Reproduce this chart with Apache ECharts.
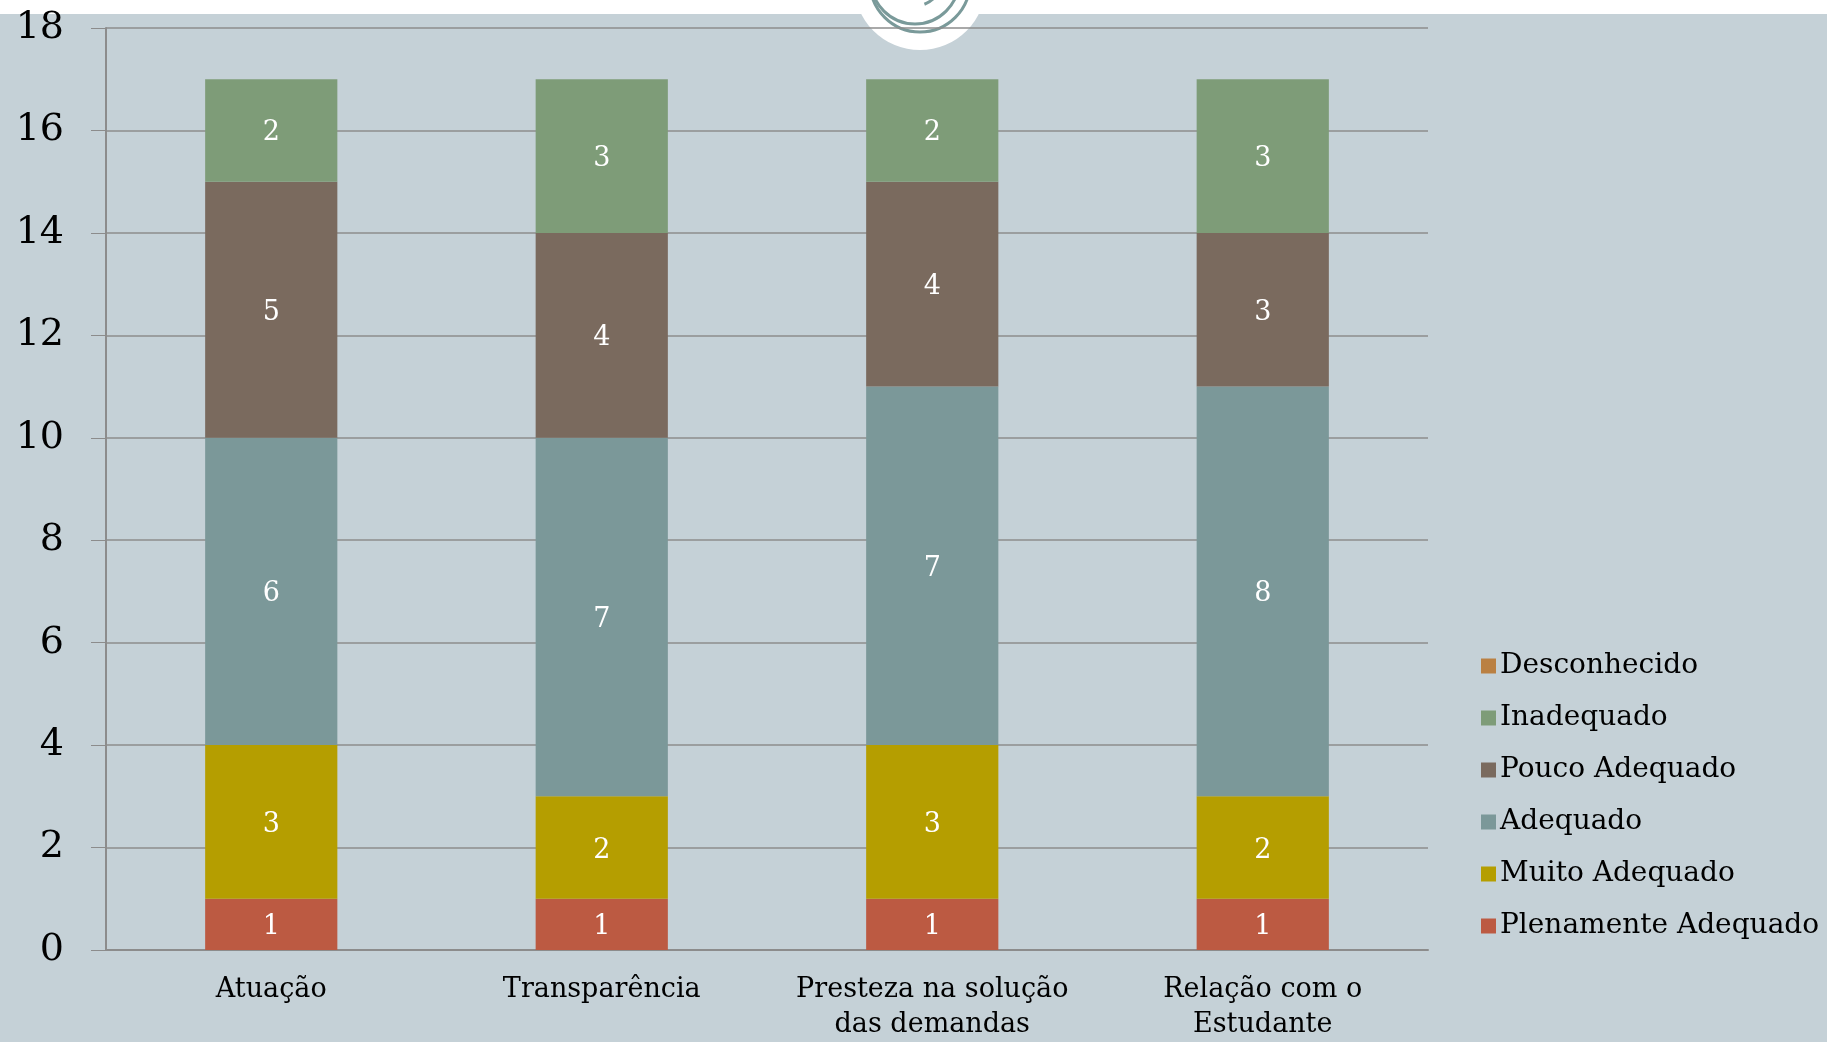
<!DOCTYPE html>
<html>
<head>
<meta charset="utf-8">
<script src="https://cdn.jsdelivr.net/npm/echarts@6/dist/echarts.min.js"></script>
<style>
  html, body { margin: 0; padding: 0; background: #c5d1d7; }
  #chart { width: 1827px; height: 1042px; }
</style>
</head>
<body>
<div id="chart"></div>
<script>
// categories and counts per answer
const categories = ['Atuação', 'Transparência', 'Presteza na solução\ndas demandas', 'Relação com o\nEstudante']
const plenamente = [1, 1, 1, 1]
const muito = [3, 2, 3, 2]
const adequado = [6, 7, 7, 8]
const pouco = [5, 4, 4, 3]
const inadequado = [2, 3, 2, 3]
const desconhecido = [0, 0, 0, 0]
const yTicks = [0, 2, 4, 6, 8, 10, 12, 14, 16, 18]

const font = 'DejaVu Serif'

function barSeries(name, data, color) {
  return {
    name: name,
    type: 'bar',
    stack: 'total',
    barWidth: '40%',
    data: data,
    itemStyle: { color: color },
    label: {
      show: true,
      color: '#fff',
      fontFamily: font,
      fontSize: 27,
      offset: [0, 3],
      formatter: p => (p.value ? p.value : '')
    }
  }
}

const chart = echarts.init(document.getElementById('chart'))
chart.setOption({
  backgroundColor: '#c5d1d7',
  animation: false,
  graphic: [
    { type: 'rect', z: -10, shape: { x: 0, y: 0, width: 1827, height: 14 }, style: { fill: '#fff' } },
    { type: 'circle', z: -10, shape: { cx: 920, cy: -16, r: 66 }, style: { fill: '#fff' } },
    { type: 'circle', z: -9, shape: { cx: 920, cy: -18, r: 50 }, style: { fill: 'none', stroke: '#7a9a9a', lineWidth: 3 } },
    { type: 'circle', z: -9, shape: { cx: 915, cy: -20, r: 44 }, style: { fill: 'none', stroke: '#7a9a9a', lineWidth: 3 } },
    { type: 'arc', z: -9, shape: { cx: 915, cy: -20, r: 26, startAngle: 0.3, endAngle: 1.2 }, style: { stroke: '#7a9a9a', lineWidth: 3 } }
  ],
  grid: { left: 106, right: 399, top: 28, bottom: 90 },
  legend: {
    orient: 'vertical',
    left: 1476,
    top: 647,
    itemWidth: 15,
    itemHeight: 15,
    itemGap: 24,
    icon: 'rect',
    textStyle: { fontFamily: font, fontSize: 28, color: '#000', padding: [0, 0, 0, -1] },
    data: ['Desconhecido', 'Inadequado', 'Pouco Adequado', 'Adequado', 'Muito Adequado', 'Plenamente Adequado']
  },
  xAxis: {
    type: 'category',
    data: categories,
    axisLine: { lineStyle: { color: '#8c8c8c', width: 2 } },
    axisTick: { length: 10, lineStyle: { color: '#8c8c8c' } },
    axisLabel: { fontFamily: font, fontSize: 27, color: '#000', margin: 22, lineHeight: 35, interval: 0 }
  },
  yAxis: {
    type: 'value',
    min: yTicks[0],
    max: yTicks[yTicks.length - 1],
    interval: 2,
    axisLine: { show: true, lineStyle: { color: '#8c8c8c', width: 2 } },
    axisTick: { show: true, length: 15, lineStyle: { color: '#8c8c8c' } },
    axisLabel: { fontFamily: font, fontSize: 38, color: '#000', margin: 42 },
    splitLine: { lineStyle: { color: '#8c8c8c', width: 1.5 } }
  },
  series: [
    barSeries('Plenamente Adequado', plenamente, '#bc5a42'),
    barSeries('Muito Adequado', muito, '#b59e00'),
    barSeries('Adequado', adequado, '#7b9899'),
    barSeries('Pouco Adequado', pouco, '#7a6a5e'),
    barSeries('Inadequado', inadequado, '#7e9c78'),
    barSeries('Desconhecido', desconhecido, '#ba8042')
  ]
})
</script>
</body>
</html>
